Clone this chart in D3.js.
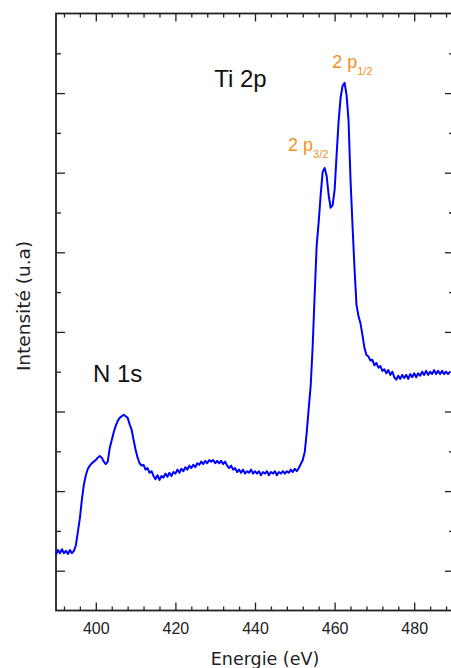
<!DOCTYPE html>
<html>
<head>
<meta charset="utf-8">
<script src="https://cdn.jsdelivr.net/npm/d3@7"></script>
<style>
  body { margin: 0; background: #fff; }
  svg { display: block; }
</style>
</head>
<body>
<div class="canvas"></div>
<script>
// spectrum: energy (eV) and intensity (a.u.)
const energy = [
  390.0,390.5,391.0,391.5,392.0,392.5,393.0,393.5,394.0,394.5,395.0,395.5,396.0,396.5,397.0,397.5,398.0,398.5,399.0,399.5,
  400.0,400.5,401.0,401.5,402.0,402.5,403.0,403.5,404.0,404.5,405.0,405.5,406.0,406.5,407.0,407.5,408.0,408.5,409.0,409.5,
  410.0,410.5,411.0,411.5,412.0,412.5,413.0,413.5,414.0,414.5,415.0,415.5,416.0,416.5,417.0,417.5,418.0,418.5,419.0,419.5,
  420.0,420.5,421.0,421.5,422.0,422.5,423.0,423.5,424.0,424.5,425.0,425.5,426.0,426.5,427.0,427.5,428.0,428.5,429.0,429.5,
  430.0,430.5,431.0,431.5,432.0,432.5,433.0,433.5,434.0,434.5,435.0,435.5,436.0,436.5,437.0,437.5,438.0,438.5,439.0,439.5,
  440.0,440.5,441.0,441.5,442.0,442.5,443.0,443.5,444.0,444.5,445.0,445.5,446.0,446.5,447.0,447.5,448.0,448.5,449.0,449.5,
  450.0,450.5,451.0,451.5,452.0,452.5,453.0,453.5,454.0,454.5,455.0,455.5,456.0,456.5,457.0,457.5,458.0,458.5,459.0,459.5,
  460.0,460.5,461.0,461.5,462.0,462.5,463.0,463.5,464.0,464.5,465.0,465.5,466.0,466.5,467.0,467.5,468.0,468.5,469.0,469.5,
  470.0,470.5,471.0,471.5,472.0,472.5,473.0,473.5,474.0,474.5,475.0,475.5,476.0,476.5,477.0,477.5,478.0,478.5,479.0,479.5,
  480.0,480.5,481.0,481.5,482.0,482.5,483.0,483.5,484.0,484.5,485.0,485.5,486.0,486.5,487.0,487.5,488.0,488.5,489.0
];
const intensity = [
  0.70,0.76,0.72,0.77,0.72,0.75,0.71,0.76,0.72,0.75,0.82,0.99,1.16,1.39,1.58,1.70,1.78,1.82,1.85,1.87,
  1.89,1.92,1.94,1.92,1.87,1.84,1.87,2.04,2.14,2.24,2.32,2.38,2.42,2.44,2.46,2.44,2.42,2.34,2.27,2.14,
  2.02,1.92,1.85,1.82,1.83,1.77,1.79,1.73,1.75,1.69,1.65,1.70,1.64,1.69,1.67,1.72,1.68,1.73,1.69,1.74,
  1.72,1.77,1.73,1.78,1.75,1.80,1.77,1.82,1.79,1.83,1.80,1.85,1.83,1.87,1.84,1.88,1.85,1.89,1.87,1.89,
  1.85,1.88,1.85,1.88,1.84,1.87,1.82,1.79,1.82,1.77,1.79,1.74,1.77,1.73,1.77,1.72,1.75,1.73,1.77,1.72,
  1.75,1.72,1.75,1.70,1.74,1.72,1.75,1.70,1.74,1.72,1.75,1.70,1.74,1.72,1.75,1.72,1.75,1.73,1.77,1.74,
  1.78,1.75,1.79,1.84,1.89,1.99,2.24,2.54,2.83,3.33,3.98,4.59,4.88,5.22,5.51,5.56,5.46,5.22,5.06,5.09,
  5.28,5.72,6.14,6.44,6.59,6.63,6.48,6.16,5.41,4.84,4.30,3.84,3.70,3.61,3.46,3.30,3.21,3.19,3.14,3.15,
  3.08,3.11,3.05,3.07,3.01,3.03,2.98,3.02,2.96,3.00,2.93,2.90,2.95,2.91,2.96,2.92,2.96,2.91,2.97,2.93,
  2.98,2.93,2.98,2.95,3.00,2.96,3.01,2.96,3.00,2.97,3.02,2.97,3.01,2.97,3.01,2.97,3.00,2.97,3.00
];
const xTicks = [400, 420, 440, 460, 480];
const xMinor = [392, 396, 404, 408, 412, 416, 424, 428, 432, 436, 444, 448, 452, 456, 464, 468, 472, 476, 484, 488];
const yTicks = [0.5, 1.5, 2.5, 3.5, 4.5, 5.5, 6.5];
const yMinor = [1, 2, 3, 4, 5, 6, 7];

const width = 451, height = 668;
const margin = {top: 13.5, right: -3, bottom: 57.5, left: 56};
const graphWidth = width - margin.left - margin.right;
const graphHeight = height - margin.top - margin.bottom;

const svg = d3.select('.canvas')
    .append('svg')
    .attr('width', width)
    .attr('height', height);

const graph = svg.append('g')
    .attr('transform', `translate(${margin.left},${margin.top})`);

const x = d3.scaleLinear().domain([390, 490]).range([0, graphWidth]);
const y = d3.scaleLinear().domain([0, 7.5]).range([graphHeight, 0]);

const axisColor = '#222';

function styleAxis(g){
    g.selectAll('.domain').remove();
    g.selectAll('line').attr('stroke', axisColor).attr('stroke-width', 1.3);
}

// bottom axis, inward ticks with labels
graph.append('g')
    .attr('transform', `translate(0,${graphHeight})`)
    .call(d3.axisBottom(x).tickValues(xTicks).tickSize(-8).tickPadding(12).tickFormat(d3.format('d')))
    .call(styleAxis)
    .call(g => g.selectAll('text')
        .attr('fill', '#222')
        .style('font-family', '"Liberation Sans", Arial, sans-serif')
        .style('font-size', '16px'));
graph.append('g')
    .attr('transform', `translate(0,${graphHeight})`)
    .call(d3.axisBottom(x).tickValues(xMinor).tickSize(-4).tickFormat(''))
    .call(styleAxis);

// top axis
graph.append('g')
    .call(d3.axisTop(x).tickValues(xTicks).tickSize(-8).tickFormat(''))
    .call(styleAxis);
graph.append('g')
    .call(d3.axisTop(x).tickValues(xMinor).tickSize(-4).tickFormat(''))
    .call(styleAxis);

// left and right axes, no labels
graph.append('g')
    .call(d3.axisLeft(y).tickValues(yTicks).tickSize(-9).tickFormat(''))
    .call(styleAxis);
graph.append('g')
    .call(d3.axisLeft(y).tickValues(yMinor).tickSize(-5).tickFormat(''))
    .call(styleAxis);
graph.append('g')
    .attr('transform', `translate(${graphWidth},0)`)
    .call(d3.axisRight(y).tickValues(yTicks).tickSize(-9).tickFormat(''))
    .call(styleAxis);
graph.append('g')
    .attr('transform', `translate(${graphWidth},0)`)
    .call(d3.axisRight(y).tickValues(yMinor).tickSize(-5).tickFormat(''))
    .call(styleAxis);

// frame
graph.append('rect')
    .attr('width', graphWidth)
    .attr('height', graphHeight)
    .attr('fill', 'none')
    .attr('stroke', axisColor)
    .attr('stroke-width', 1.8);

// spectrum
const data = energy.map((e, i) => ({e, v: intensity[i]}));
const line = d3.line().x(d => x(d.e)).y(d => y(d.v));

graph.append('path')
    .datum(data)
    .attr('d', line)
    .attr('fill', 'none')
    .attr('stroke', '#0000ff')
    .attr('stroke-width', 2)
    .attr('stroke-linejoin', 'round');

// annotations
const annFont = '"Liberation Sans", Arial, sans-serif';
graph.append('text')
    .attr('x', x(430) - 1).attr('y', y(6.58))
    .style('font-family', annFont).style('font-size', '24px')
    .attr('fill', '#111')
    .text('Ti 2p');
graph.append('text')
    .attr('x', x(399.3)).attr('y', y(2.87))
    .style('font-family', annFont).style('font-size', '24px')
    .attr('fill', '#111')
    .text('N 1s');

const orange = '#f39019';
function peakLabel(px, py, sub){
    const t = graph.append('text')
        .attr('x', px).attr('y', py)
        .style('font-family', annFont).style('font-size', '18px')
        .attr('fill', orange);
    t.append('tspan').text('2 p');
    t.append('tspan').attr('dy', 7).style('font-size', '11px').text(sub);
}
peakLabel(x(459.4), y(6.82), '1/2');
peakLabel(x(448.3), y(5.77), '3/2');

// axis titles
svg.append('text')
    .attr('x', 265).attr('y', 665)
    .attr('text-anchor', 'middle')
    .style('font-family', '"DejaVu Sans", sans-serif')
    .style('font-size', '17.5px')
    .attr('fill', '#222')
    .text('Energie (eV)');

svg.append('text')
    .attr('transform', 'translate(29.5,306) rotate(-90)')
    .attr('text-anchor', 'middle')
    .style('font-family', '"DejaVu Sans", sans-serif')
    .style('font-size', '18.5px')
    .attr('fill', '#222')
    .text('Intensité (u.a)');
</script>
</body>
</html>
